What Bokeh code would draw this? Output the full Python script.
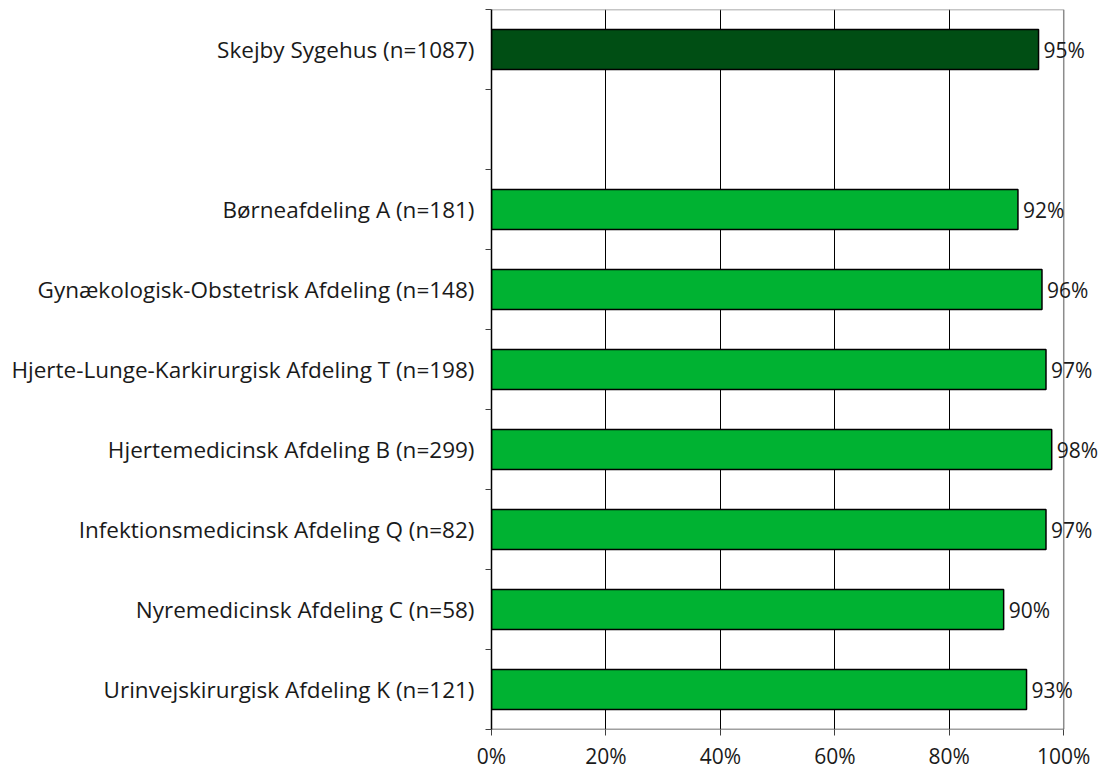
from bokeh.plotting import figure
from bokeh.models import FixedTicker, ColumnDataSource, LabelSet
from bokeh.core.properties import value
from bokeh.embed import file_html
from bokeh.resources import INLINE

categories = [
    "Skejby Sygehus (n=1087)",
    "",
    "Børneafdeling A (n=181)",
    "Gynækologisk-Obstetrisk Afdeling (n=148)",
    "Hjerte-Lunge-Karkirurgisk Afdeling T (n=198)",
    "Hjertemedicinsk Afdeling B (n=299)",
    "Infektionsmedicinsk Afdeling Q (n=82)",
    "Nyremedicinsk Afdeling C (n=58)",
    "Urinvejskirurgisk Afdeling K (n=121)",
]
values = [95.6, None, 92.0, 96.2, 96.9, 97.9, 96.9, 89.5, 93.5]
value_labels = ["95%", "", "92%", "96%", "97%", "98%", "97%", "90%", "93%"]
x_ticks = [0, 20, 40, 60, 80, 100]
x_tick_labels = ["0%", "20%", "40%", "60%", "80%", "100%"]

DARK = "#004E14"
BRIGHT = "#00B232"
FONT = "Open Sans"
FS = "22.5px"
VFS = "21px"
TXT = "#1a1a1a"
XMAX = 107.3

n = len(categories)
ys, xs, cols, labs = [], [], [], []
for i, (c, v, l) in enumerate(zip(categories, values, value_labels)):
    if v is None:
        continue
    ys.append(n - i - 0.5)
    xs.append(v)
    cols.append(DARK if i == 0 else BRIGHT)
    labs.append(l)
src = ColumnDataSource(dict(y=ys, x=xs, color=cols, label=labs))

p = figure(width=1105, height=774, x_range=(0, XMAX), y_range=(0, n),
           output_backend="svg", toolbar_location=None,
           min_border_left=491, min_border_top=9, min_border_right=0, min_border_bottom=45)
p.outline_line_color = None

# frame lines: top and right (gray), bottom axis line (dark)
p.segment(x0=[0, 100], y0=[n, 0], x1=[100, 100], y1=[n, n],
          line_color="#8c8c8c", line_width=1.5)
p.segment(x0=[0], y0=[0], x1=[100], y1=[0], line_color="#404040", line_width=1.5)

p.hbar(y="y", right="x", left=0, height=0.5, fill_color="color",
       line_color="black", line_width=1.5, source=src)
p.add_layout(LabelSet(x="x", y="y", text="label", source=src, x_offset=5,
                      text_baseline="middle", text_align="left",
                      text_font=value(FONT), text_font_size=value(VFS), text_color=TXT))

# x axis
p.xaxis.ticker = FixedTicker(ticks=x_ticks)
p.xaxis.major_label_overrides = {t: l for t, l in zip(x_ticks, x_tick_labels)}
p.xaxis.major_tick_out = 6
p.xaxis.major_tick_in = 0
p.xaxis.minor_tick_line_color = None
p.xaxis.major_label_standoff = 6
p.xaxis.axis_line_color = None
p.xaxis.major_tick_line_color = "#404040"
p.xaxis.major_label_text_font = FONT
p.xaxis.major_label_text_font_size = VFS
p.xaxis.major_label_text_color = TXT

# y axis
centers = [n - i - 0.5 for i in range(n)]
p.yaxis.ticker = FixedTicker(ticks=centers, minor_ticks=list(range(0, n + 1)))
p.yaxis.major_label_overrides = {c: lab for c, lab in zip(centers, categories)}
p.yaxis.major_tick_line_color = None
p.yaxis.minor_tick_out = 6
p.yaxis.minor_tick_in = 0
p.yaxis.minor_tick_line_color = "#404040"
p.yaxis.axis_line_color = "black"
p.yaxis.axis_line_width = 1.5
p.yaxis.major_label_standoff = 11
p.yaxis.major_label_text_font = FONT
p.yaxis.major_label_text_font_size = FS
p.yaxis.major_label_text_color = TXT

p.xgrid.ticker = FixedTicker(ticks=[20, 40, 60, 80])
p.xgrid.grid_line_color = "black"
p.xgrid.grid_line_width = 1
p.ygrid.grid_line_color = None

open("out.html", "w").write(file_html(p, INLINE))
